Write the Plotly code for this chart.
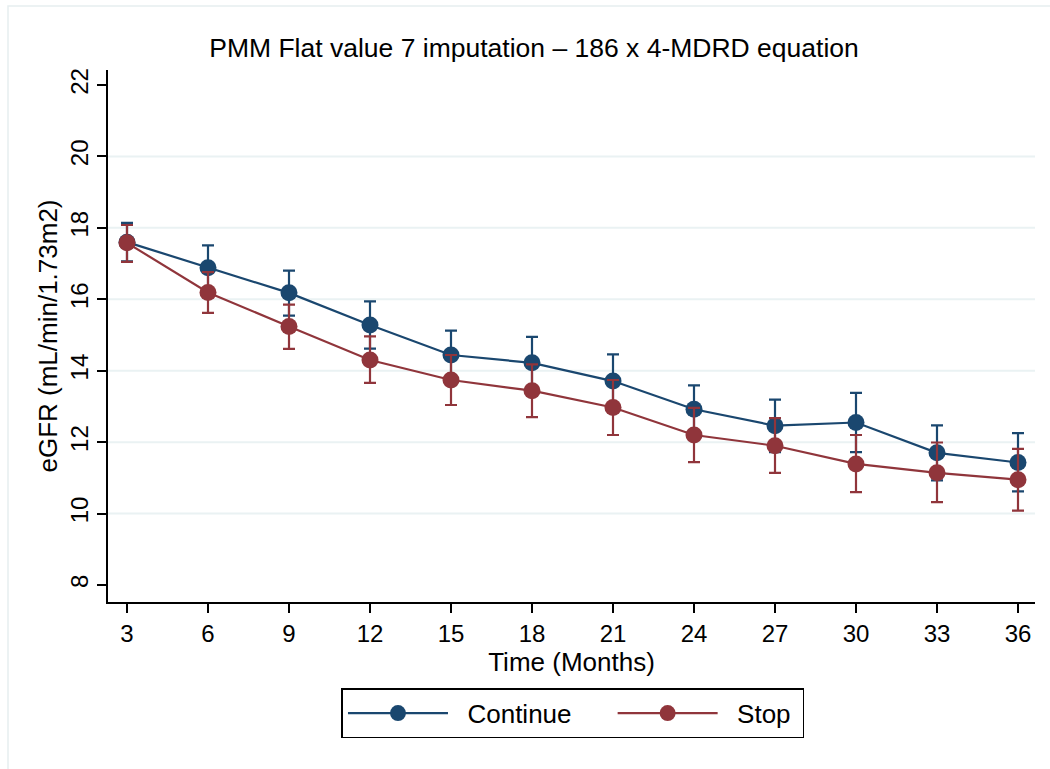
import plotly.graph_objects as go

months = [3, 6, 9, 12, 15, 18, 21, 24, 27, 30, 33, 36]

continue_mean = [17.60, 16.88, 16.18, 15.28, 14.44, 14.22, 13.71, 12.92, 12.46, 12.55, 11.70, 11.43]
continue_hi = [18.14, 17.51, 16.80, 15.94, 15.12, 14.95, 14.46, 13.59, 13.19, 13.38, 12.47, 12.25]
continue_lo = [17.06, 16.25, 15.54, 14.62, 13.76, 13.49, 12.96, 12.25, 11.72, 11.72, 10.93, 10.62]

stop_mean = [17.58, 16.19, 15.24, 14.30, 13.74, 13.44, 12.97, 12.20, 11.90, 11.39, 11.14, 10.95]
stop_hi = [18.08, 16.76, 15.85, 14.96, 14.44, 14.18, 13.74, 12.96, 12.67, 12.20, 11.99, 11.81]
stop_lo = [17.05, 15.62, 14.61, 13.66, 13.04, 12.70, 12.20, 11.44, 11.14, 10.60, 10.32, 10.08]

y_ticks = [8, 10, 12, 14, 16, 18, 20, 22]

BLUE = "#1a476f"
RED = "#90353b"
FONT = "Liberation Sans, Arial, sans-serif"
NB = "\u00a0"

fig = go.Figure()


def add_series(name, label, mean, hi, lo, color):
    fig.add_trace(go.Scatter(
        x=months, y=mean, name=label, mode="lines+markers",
        line=dict(color=color, width=2.2),
        marker=dict(color=color, size=17),
        error_y=dict(type="data", symmetric=False,
                     array=[h - m for h, m in zip(hi, mean)],
                     arrayminus=[m - l for m, l in zip(mean, lo)],
                     color=color, thickness=2.2, width=6),
    ))


add_series("Continue", NB * 2 + "Continue" + NB * 5, continue_mean, continue_hi, continue_lo, BLUE)
add_series("Stop", NB * 2 + "Stop" + NB, stop_mean, stop_hi, stop_lo, RED)

fig.update_layout(
    width=1050, height=769,
    margin=dict(l=108, r=15, t=70, b=167),
    paper_bgcolor="white", plot_bgcolor="white",
    font=dict(family=FONT, color="black", size=24),
    title=dict(text="PMM Flat value 7 imputation \u2013 186 x 4-MDRD equation",
               xref="container", x=534 / 1050, xanchor="center",
               y=1 - 48 / 769, yanchor="middle",
               font=dict(size=26.5, family=FONT, color="black")),
    showlegend=True,
    legend=dict(orientation="h", x=0.5016, xanchor="center", y=-0.162, yanchor="top",
                bordercolor="black", borderwidth=1.5, bgcolor="white",
                font=dict(size=26, family=FONT), itemwidth=100),
    shapes=[dict(type="rect", xref="paper", yref="paper",
                 x0=(8 - 108) / 927, x1=(1060 - 108) / 927,
                 y0=(602 - 780) / 532, y1=(602 - 6) / 532,
                 line=dict(color="#e6eef0", width=1.5), fillcolor="rgba(0,0,0,0)",
                 layer="below")],
)

fig.update_xaxes(
    range=[3 - 19 / 27, 36 + 17 / 27], tickvals=months,
    showline=True, linecolor="black", linewidth=1.5,
    ticks="outside", ticklen=9, tickwidth=1.5, tickcolor="black",
    showgrid=False, zeroline=False,
    tickfont=dict(size=24),
    title=dict(text="Time (Months)", font=dict(size=26), standoff=1),
)
fig.update_yaxes(
    range=[8 - 17 / 35.714, 22 + 15 / 35.714], tickvals=y_ticks,
    tickangle=-90,
    showline=True, linecolor="black", linewidth=1.5,
    ticks="outside", ticklen=9, tickwidth=1.5, tickcolor="black",
    showgrid=False, zeroline=False,
    tickfont=dict(size=24),
    title=dict(text="eGFR (mL/min/1.73m2)", font=dict(size=26), standoff=1),
)

for g in [10, 12, 14, 16, 18, 20]:
    fig.add_hline(y=g, line=dict(color="#eaf2f3", width=2), layer="below")

fig.write_html("out.html")
